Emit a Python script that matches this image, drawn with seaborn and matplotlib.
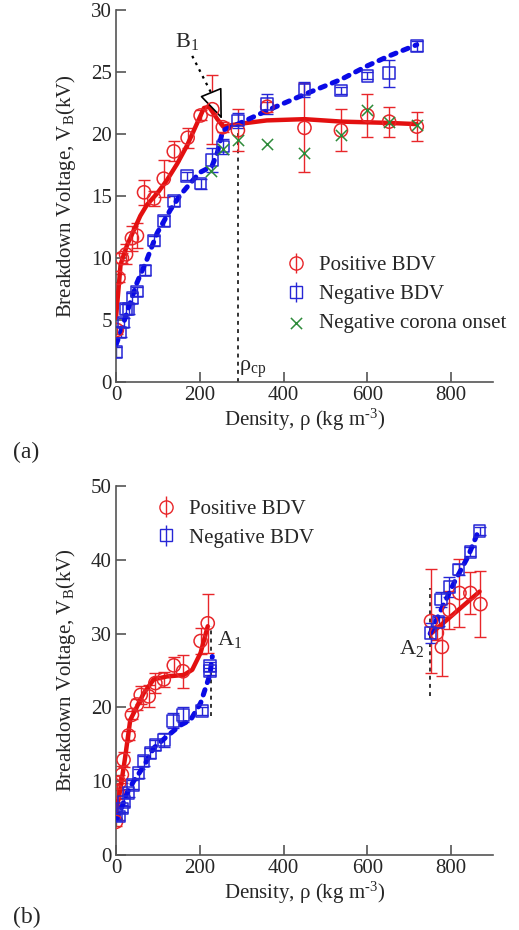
import numpy as np
import matplotlib
matplotlib.use("Agg")
import matplotlib.pyplot as plt
import pandas as pd
import seaborn as sns

# ---- panel (a) data ----
posA_x = [2, 6, 14, 24, 38, 50, 67, 91, 114, 138, 171, 202, 230, 255, 291, 361, 450, 537, 600, 652, 718]
posA_y = [4.2, 8.4, 10.0, 10.3, 11.6, 11.8, 15.3, 14.8, 16.4, 18.6, 19.7, 21.5, 22.0, 20.55, 20.3, 22.2, 20.5, 20.3, 21.5, 21.0, 20.6]
posA_err = [0.3, 0.3, 0.4, 0.8, 1.0, 1.0, 1.0, 0.6, 1.5, 0.8, 0.8, 0.4, 2.8, 0.4, 1.7, 0.4, 3.6, 1.7, 1.7, 1.2, 1.2]

negA_x = [0, 11, 18, 24, 30, 39, 50, 70, 91, 114, 138, 170, 202, 229, 255, 291, 361, 450, 537, 600, 652, 718]
negA_y = [2.4, 4.0, 4.8, 5.9, 5.9, 6.8, 7.3, 9.0, 11.4, 13.0, 14.6, 16.6, 16.0, 17.9, 19.0, 21.1, 22.4, 23.6, 23.5, 24.7, 24.9, 27.1]
negA_err = [0.4, 0.4, 0.4, 0.4, 0.4, 0.4, 0.4, 0.4, 0.4, 0.4, 0.4, 0.3, 0.4, 1.0, 0.6, 0.6, 0.8, 0.6, 0.3, 0.3, 1.1, 0.4]

coronaA_x = [227, 255, 291, 361, 450, 537, 600, 652, 718]
coronaA_y = [17.0, 18.8, 19.5, 19.2, 18.5, 19.9, 21.9, 21.0, 20.7]

posA_fit_x = [0, 6, 11, 26, 42, 58, 74, 98, 122, 146, 170, 194, 210, 222, 242, 256, 290, 360, 450, 540, 650, 718]
posA_fit_y = [5.2, 7.5, 9.5, 11.0, 12.2, 13.4, 14.3, 15.2, 16.3, 17.6, 19.1, 20.9, 22.1, 22.2, 21.2, 20.6, 20.8, 21.1, 21.2, 21.0, 20.9, 20.8]

negA_fit_x = [0, 10, 26, 50, 74, 98, 130, 154, 174, 200, 229, 242, 255, 291, 361, 450, 537, 600, 652, 718]
negA_fit_y = [3.0, 3.9, 5.6, 8.0, 9.9, 12.0, 13.9, 15.1, 15.9, 16.9, 17.4, 18.5, 20.3, 20.8, 21.9, 23.2, 24.4, 25.5, 26.3, 27.2]

rho_cp = 291
rho_cp_top = 20.3

# ---- panel (b) data ----
posB_x = [0, 3, 8, 14, 18, 30, 38, 50, 59, 78, 94, 114, 138, 160, 202, 219,
          752, 766, 778, 796, 820, 846, 870]
posB_y = [4.5, 8.6, 9.8, 10.9, 12.9, 16.2, 19.0, 20.4, 21.7, 21.5, 23.3, 23.8, 25.7, 24.9, 29.0, 31.4,
          31.7, 30.1, 28.2, 33.2, 35.5, 35.5, 34.0]
posB_err = [0.5, 1.0, 1.0, 1.2, 1.0, 0.6, 0.5, 0.8, 1.2, 1.5, 1.3, 1.0, 1.2, 2.2, 1.8, 4.0,
            7.0, 1.0, 4.0, 2.6, 4.6, 2.8, 4.5]

negB_x = [0, 8, 14, 19, 30, 40, 54, 66, 82, 94, 114, 136, 160, 206, 224, 224,
          751, 770, 776, 796, 818, 846, 868]
negB_y = [5.4, 5.2, 6.3, 7.2, 8.4, 9.5, 11.1, 12.7, 13.8, 14.9, 15.6, 18.2, 19.0, 19.5, 25.6, 24.9,
          30.1, 31.6, 34.6, 36.3, 38.7, 41.1, 43.9]
negB_err = [0.5, 0.5, 0.5, 0.5, 0.6, 0.6, 0.6, 0.7, 0.7, 0.7, 1.0, 1.0, 1.0, 0.5, 0.6, 0.5,
            1.4, 0.6, 1.0, 1.4, 0.8, 0.6, 0.5]

posB_fit1_x = [0, 10, 22, 34, 50, 66, 90, 122, 162, 182, 202, 219]
posB_fit1_y = [5.7, 8.8, 13.3, 18.3, 20.1, 21.9, 23.8, 24.2, 24.4, 25.1, 27.4, 31.0]
posB_fit2_x = [752, 868]
posB_fit2_y = [30.0, 35.7]

negB_fit1_x = [0, 10, 26, 42, 66, 90, 122, 154, 178, 202, 224, 230]
negB_fit1_y = [4.8, 5.9, 8.4, 10.0, 12.0, 14.5, 16.1, 17.6, 18.3, 20.6, 24.4, 26.9]
negB_fit2_x = [750, 776, 808, 840, 868]
negB_fit2_y = [30.0, 33.2, 37.0, 40.4, 44.3]

A1_x, A1_lo, A1_hi = 227, 18.8, 31.0
A2_x, A2_lo, A2_hi = 750, 21.5, 36.2

# ---- style ----
sns.set_style("ticks")
plt.rcParams["font.family"] = ["Liberation Serif", "DejaVu Serif"]
plt.rcParams["mathtext.fontset"] = "custom"
plt.rcParams["mathtext.rm"] = "Liberation Serif"
plt.rcParams["mathtext.it"] = "Liberation Serif:italic"
plt.rcParams["mathtext.default"] = "regular"

RED = "#e8262a"
RED_LINE = "#e31010"
BLUE = "#2626d6"
BLUE_LINE = "#0a0ae6"
GREEN = "#2e8b3a"
AXC = "#555555"

fig = plt.figure(figsize=(5.19, 9.30), dpi=100)
axA = fig.add_axes([0.2235, 0.5892, 0.7264, 0.4])
axB = fig.add_axes([0.2235, 0.0806, 0.7264, 0.3968])

err_kw = dict(fmt="none", elinewidth=1.0, capsize=4, capthick=1.0)


def style_axis(ax, ymax, ystep):
    ax.set_xlim(0, 900)
    ax.set_ylim(0, ymax)
    ax.set_xticks([0, 200, 400, 600, 800])
    ax.set_yticks(np.arange(0, ymax + 0.1, ystep))
    for s in ["top", "right"]:
        ax.spines[s].set_visible(False)
    for s in ["left", "bottom"]:
        ax.spines[s].set_color(AXC)
        ax.spines[s].set_linewidth(1.2)
    ax.tick_params(direction="in", length=7, width=1.2, color=AXC,
                   labelsize=15, pad=3)
    ax.set_xlabel(r"Density, ρ (kg m$^{\text{-}3}$)", fontsize=15, labelpad=1)
    ax.set_ylabel("Breakdown Voltage, V$_{B}$(kV)", fontsize=15, labelpad=9)


# ---- panel (a) ----
ax = axA
sns.lineplot(x=posA_fit_x, y=posA_fit_y, ax=ax, color=RED_LINE, lw=3.2,
             sort=False, estimator=None, solid_capstyle="round", zorder=3)
sns.lineplot(x=negA_fit_x, y=negA_fit_y, ax=ax, color=BLUE_LINE, lw=3.6,
             sort=False, estimator=None, zorder=3,
             linestyle=(0, (1.1, 1.5)), dash_capstyle="round")
ax.errorbar(posA_x, posA_y, yerr=posA_err, ecolor=RED, **err_kw, zorder=2)
ax.errorbar(negA_x, negA_y, yerr=negA_err, ecolor=BLUE, **err_kw, zorder=2)
pA = ax.errorbar([], [], yerr=[], marker="o", ms=9.5, mfc="none", mec=RED,
                 color=RED, ls="none", elinewidth=1.0, capsize=4)
nA = ax.errorbar([], [], yerr=[], marker="s", ms=8.5, mfc="none", mec=BLUE,
                 color=BLUE, ls="none", elinewidth=1.0, capsize=4)
sns.scatterplot(x=posA_x, y=posA_y, ax=ax, marker="o", s=90, facecolor="none",
                edgecolor=RED, linewidth=1.1, zorder=4)
sns.scatterplot(x=negA_x, y=negA_y, ax=ax, marker="s", s=70, facecolor="none",
                edgecolor=BLUE, linewidth=1.1, zorder=4)
cA = ax.scatter(coronaA_x, coronaA_y, marker="x", s=65, color=GREEN,
                linewidth=1.1, zorder=5)
ax.plot([rho_cp, rho_cp], [0, rho_cp_top], color="#333333", lw=1.4,
        ls=(0, (2, 2.2)), zorder=1)
ax.text(rho_cp + 3, 0.9, "ρ$_{cp}$", fontsize=16)

# B1 annotation
ax.plot([182, 232], [26.3, 23.0], color="black", lw=1.6, ls=(0, (1.2, 2.2)))
ax.annotate("", xy=(253, 21.2), xytext=(230, 23.1),
            arrowprops=dict(arrowstyle="-|>,head_length=1.9,head_width=0.75",
                            fc="white", ec="black", lw=1.2, shrinkA=0, shrinkB=0))
ax.text(169, 27.0, "B$_{1}$", fontsize=16, ha="center")

style_axis(ax, 30, 5)
ax.legend([pA, nA, cA], ["Positive BDV", "Negative BDV", "Negative corona onset"],
          loc="upper left", bbox_to_anchor=(0.395, 0.39), frameon=False,
          fontsize=15, handlelength=1.2, handletextpad=0.5, labelspacing=0.45)

# ---- panel (b) ----
ax = axB
for fx, fy in [(posB_fit1_x, posB_fit1_y), (posB_fit2_x, posB_fit2_y)]:
    sns.lineplot(x=fx, y=fy, ax=ax, color=RED_LINE, lw=3.2, sort=False,
                 estimator=None, solid_capstyle="round", zorder=3)
for fx, fy in [(negB_fit1_x, negB_fit1_y), (negB_fit2_x, negB_fit2_y)]:
    sns.lineplot(x=fx, y=fy, ax=ax, color=BLUE_LINE, lw=3.6, sort=False,
                 estimator=None, zorder=3, linestyle=(0, (1.1, 1.5)),
                 dash_capstyle="round")
ax.errorbar(posB_x, posB_y, yerr=posB_err, ecolor=RED, **err_kw, zorder=2)
ax.errorbar(negB_x, negB_y, yerr=negB_err, ecolor=BLUE, **err_kw, zorder=2)
pB = ax.errorbar([], [], yerr=[], marker="o", ms=9.5, mfc="none", mec=RED,
                 color=RED, ls="none", elinewidth=1.0, capsize=4)
nB = ax.errorbar([], [], yerr=[], marker="s", ms=8.5, mfc="none", mec=BLUE,
                 color=BLUE, ls="none", elinewidth=1.0, capsize=4)
sns.scatterplot(x=posB_x, y=posB_y, ax=ax, marker="o", s=90, facecolor="none",
                edgecolor=RED, linewidth=1.1, zorder=4)
sns.scatterplot(x=negB_x, y=negB_y, ax=ax, marker="s", s=70, facecolor="none",
                edgecolor=BLUE, linewidth=1.1, zorder=4)
ax.plot([A1_x, A1_x], [A1_lo, A1_hi], color="#333333", lw=1.4, ls=(0, (2, 2.2)), zorder=1)
ax.plot([A2_x, A2_x], [A2_lo, A2_hi], color="#333333", lw=1.4, ls=(0, (2, 2.2)), zorder=1)
ax.text(240, 28.5, "A$_{1}$", fontsize=16)
ax.text(735, 27.3, "A$_{2}$", fontsize=16, ha="right")

style_axis(ax, 50, 10)
ax.legend([pB, nB], ["Positive BDV", "Negative BDV"],
          loc="upper left", bbox_to_anchor=(0.05, 1.015), frameon=False,
          fontsize=15, handlelength=1.2, handletextpad=0.5, labelspacing=0.45)

fig.text(0.025, 0.508, "(a)", fontsize=17)
fig.text(0.025, 0.008, "(b)", fontsize=17)

fig.savefig("out.png", dpi=100)
